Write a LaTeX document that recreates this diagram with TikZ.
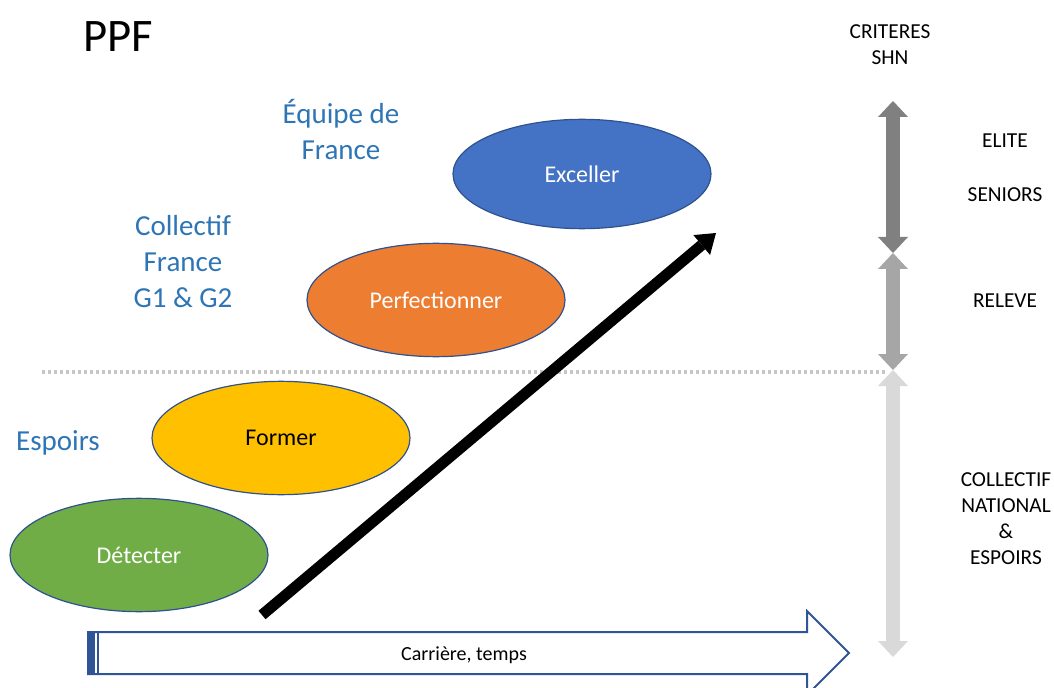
\documentclass[tikz,border=0pt]{standalone}
\usepackage{fontspec}
\setmainfont{Carlito}
\usetikzlibrary{shapes.geometric,arrows.meta}
\definecolor{ppfblu}{HTML}{4472C4}
\definecolor{ppfora}{HTML}{ED7D31}
\definecolor{ppfyel}{HTML}{FFC000}
\definecolor{ppfgre}{HTML}{70AD47}
\definecolor{ppfedge}{HTML}{2F528F}
\definecolor{ppftxt}{HTML}{2E75B6}
\definecolor{ppfline}{HTML}{2F5597}
\tikzset{
    ellblu/.style={ellipse,draw=ppfedge,line width=.9pt,minimum width=193.5pt,minimum height=82pt,inner sep=0pt,fill=ppfblu,text=white,font=\fontsize{18}{22}\selectfont},
    ellora/.style={ellipse,draw=ppfedge,line width=.9pt,minimum width=193.5pt,minimum height=85pt,inner sep=0pt,fill=ppfora,text=white,font=\fontsize{18}{22}\selectfont},
    ellyel/.style={ellipse,draw=ppfedge,line width=.9pt,minimum width=193.5pt,minimum height=85pt,inner sep=0pt,fill=ppfyel,text=black,font=\fontsize{18}{22}\selectfont},
    ellgre/.style={ellipse,draw=ppfedge,line width=.9pt,minimum width=193.5pt,minimum height=85pt,inner sep=0pt,fill=ppfgre,text=white,font=\fontsize{18}{22}\selectfont},
    txtblu/.style={align=center,inner sep=0pt,text=ppftxt,font=\fontsize{21.75}{27}\selectfont},
    txtblk/.style={align=center,inner sep=0pt,text=black,font=\fontsize{16}{19.5}\selectfont},
    lvlarr/.style={line width=10.5pt,{Triangle[width=22.5pt,length=12pt,line width=0pt]}-{Triangle[width=22.5pt,length=12pt,line width=0pt]}}
}

\begin{document}
\begin{tikzpicture}[x=.75pt,y=-.75pt]
        \useasboundingbox (0,0) rectangle (1054,688);
        %---
        \node[inner sep=0pt,font=\fontsize{35}{40}\selectfont] (ppf) at (118,37) {PPF};
        \node[txtblu] (l-edf) at (341,129) {Équipe de\\France};
        \node[txtblu] (l-cf) at (183,262) {Collectif\\France\\G1 \& G2};
        \node[txtblu,anchor=base] (l-esp) at (58,450) {Espoirs};

        %---
        \draw[color=gray!45,line width=2.5pt,dash pattern=on 2.5pt off 2pt] (42,372) -- (885,372);

        \node[ellblu] (exc) at (582,174) {Exceller};
        \node[ellora] (perf) at (436,300) {Perfectionner};
        \node[ellyel] (form) at (281,438) {Former};
        \node[ellgre] (det) at (139,555) {Détecter};

        %---
        \coordinate (prog-s) at (262,615);
        \coordinate (prog-e) at (716,233);
        \draw[line width=8.25pt,-{Triangle[width=19.5pt,length=14pt,line width=0pt]}] (prog-s) -- (prog-e);

        %---
        \draw[color=ppfline,line width=1.5pt,fill=white,line join=miter]
            (88,632) -- (807,632) -- (807,611) -- (849,653) -- (807,695) -- (807,674) -- (88,674) -- cycle;
        \fill[color=ppfline] (88,632) rectangle (95,674);
        \draw[color=ppfline,line width=1.5pt] (98,632) -- (98,674);
        \node[inner sep=0pt,font=\fontsize{15}{18}\selectfont] (carr) at (464,655) {Carrière, temps};

        %---
        \coordinate (v-1) at (893,101);
        \coordinate (v-2) at (893,253);
        \coordinate (v-3) at (893,370);
        \coordinate (v-4) at (893,657);
        \draw[lvlarr,color=black!50] (v-1) -- (v-2);
        \draw[lvlarr,color=black!35] (v-2) -- (v-3);
        \draw[lvlarr,color=black!15] (v-3) -- (v-4);

        \node[txtblk] (r-crit) at (890,44.5) {CRITERES\\SHN};
        \node[txtblk,anchor=base] (r-elite) at (1005,148) {ELITE};
        \node[txtblk,anchor=base] (r-sen) at (1005,202) {SENIORS};
        \node[txtblk,anchor=base] (r-rel) at (1005,307) {RELEVE};
        \node[txtblk] (r-coll) at (1006,519) {COLLECTIF\\NATIONAL\\\&\\ESPOIRS};
    \end{tikzpicture}
\end{document}
